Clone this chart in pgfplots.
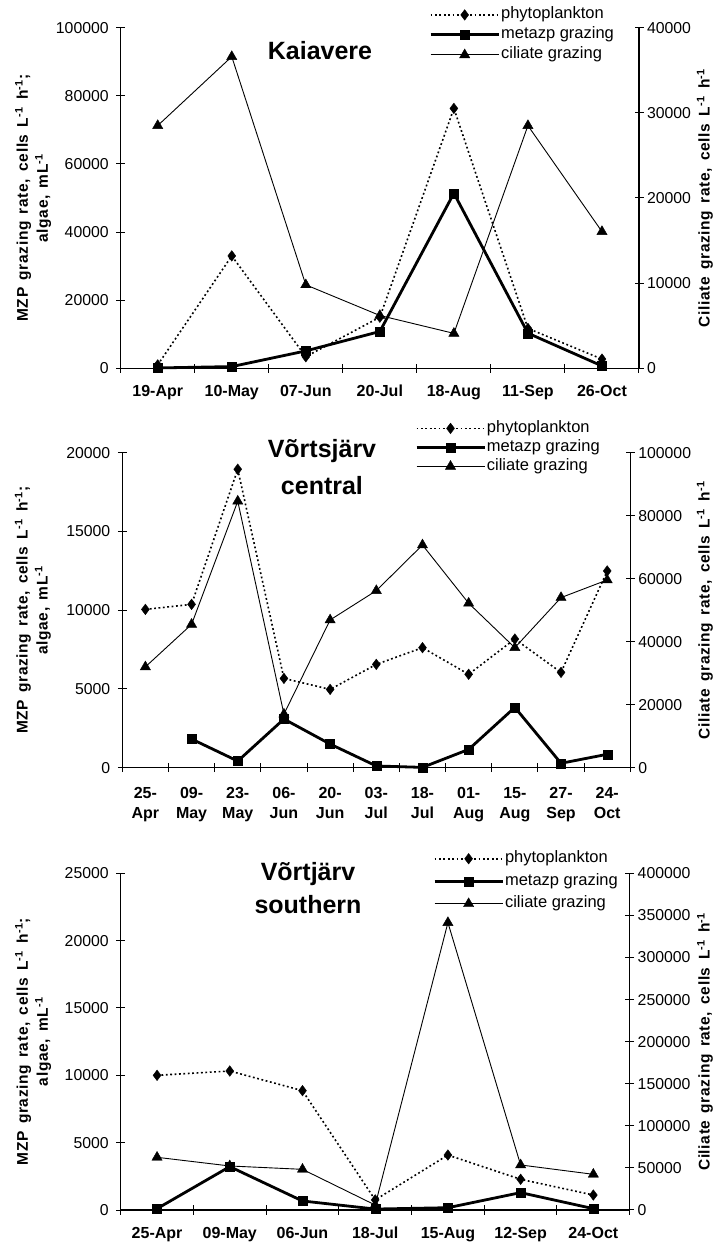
\documentclass[border=0pt]{standalone}
\usepackage{pgfplots}
\pgfplotsset{compat=1.18}
\usepackage{fontspec}
\setmainfont{Liberation Sans}
\newfontfamily\lblfont[LetterSpace=4,WordSpace=1.5]{Liberation Sans}

\newcommand{\mzplabel}{MZP grazing rate, cells L\textsuperscript{-1} h\textsuperscript{-1};\\algae, mL\textsuperscript{-1}}
\newcommand{\cililabel}{Ciliate grazing rate, cells L\textsuperscript{-1} h\textsuperscript{-1}}

\pgfplotsset{
  panel/.style={
    scale only axis,
    clip=false,
    axis line style={line width=1.1pt,-},
    every tick/.style={line width=1pt,black},
    major tick length=9pt,
    ymin=0,
    scaled y ticks=false,
    yticklabel style={font=\fontsize{15.8}{18}\selectfont,
      /pgf/number format/fixed,/pgf/number format/1000 sep={},
      /pgf/number format/assume math mode=true},
  },
  leftpanel/.style={
    panel,
    axis x line*=bottom,
    axis y line*=left,
    tick align=center,
    x tick label as interval,
    xticklabel style={font=\bfseries\fontsize{16}{20}\selectfont,align=center,yshift=-9pt},
    yticklabel style={xshift=-4pt},
    every axis y label/.style={at={(axis description cs:#1,0.5)},anchor=center,rotate=90,
      font=\lblfont\bfseries\fontsize{15.5}{20}\selectfont,align=center},
  },
  rightpanel/.style={
    panel,
    axis x line=none,
    axis y line*=right,
    tick align=center,
    every axis y label/.style={at={(axis description cs:#1,0.5)},anchor=center,rotate=90,
      font=\lblfont\bfseries\fontsize{15.5}{20}\selectfont},
    legend cell align=left,
    legend image code/.code={
      \draw[mark repeat=2,mark phase=2,##1] plot coordinates {(0pt,0pt) (34pt,0pt) (68pt,0pt)};
    },
  },
  phyto/.style={black,line width=1.6pt,dash pattern=on 1.8pt off 2.6pt,
    mark=diamond*,mark size=5.3pt,mark options={solid,line width=0.4pt}},
  metazp/.style={black,line width=2.8pt,
    mark=square*,mark size=4.5pt,mark options={solid,line width=0.4pt}},
  cili/.style={black,line width=0.9pt,
    mark=triangle*,mark size=5.9pt,mark options={solid,line width=0.4pt}},
  legstyle/.style={legend style={draw=none,fill=none,inner sep=0pt,row sep=0pt,
    at={(axis description cs:#1,1)},anchor=north west,
    font=\fontsize{16.5}{19}\selectfont,
    nodes={inner sep=1pt,text height=13pt,text depth=5pt},
    /tikz/every odd column/.append style={column sep=0pt}}},
}

\tikzset{paneltitle/.style={anchor=base,font=\bfseries\fontsize{25}{28}\selectfont}}

\begin{document}
\begin{tikzpicture}
\path[use as bounding box] (0pt,0pt) rectangle (724pt,1245pt);

% ---------------- Kaiavere ----------------
\begin{axis}[leftpanel=-0.169,
  at={(120.7pt,876.7pt)},anchor=south west,
  width=518.3pt,height=340.6pt,
  xmin=-0.5,xmax=6.5,ymax=100000,
  xtick={-0.5,0.5,...,6.5},
  xticklabels={19-Apr,10-May,07-Jun,20-Jul,18-Aug,11-Sep,26-Oct},
  ytick={0,20000,...,100000},
  ylabel={\mzplabel}]
\addplot[phyto] coordinates {(0,1000) (1,33000) (2,3400) (3,15000) (4,76300) (5,11700) (6,2700)};
\addplot[metazp] coordinates {(0,100) (1,500) (2,5100) (3,10800) (4,51400) (5,10300) (6,700)};
\node[paneltitle] at (axis description cs:0.3845,0.907) {Kaiavere};
\end{axis}
\begin{axis}[rightpanel=1.127,legstyle=0.595,
  legend style={yshift=23pt},
  at={(120.7pt,876.7pt)},anchor=south west,
  width=518.3pt,height=340.6pt,
  xmin=-0.5,xmax=6.5,ymax=40000,
  ytick={0,10000,...,40000},
  ylabel={\cililabel}]
\addlegendimage{phyto}\addlegendentry{phytoplankton}
\addlegendimage{metazp}\addlegendentry{metazp grazing}
\addplot[cili] coordinates {(0,28500) (1,36600) (2,9800) (3,6200) (4,4100) (5,28500) (6,16050)};
\addlegendentry{ciliate grazing}
\end{axis}

% ---------------- Vortsjarv central ----------------
\begin{axis}[leftpanel=-0.176,
  at={(122.3pt,477.3pt)},anchor=south west,
  width=508pt,height=315pt,
  xmin=-0.5,xmax=10.5,ymax=20000,
  xtick={-0.5,0.5,...,10.5},
  xticklabels={{25-\\Apr},{09-\\May},{23-\\May},{06-\\Jun},{20-\\Jun},{03-\\Jul},{18-\\Jul},{01-\\Aug},{15-\\Aug},{27-\\Sep},{24-\\Oct}},
  xticklabel style={yshift=-3pt},
  ytick={0,5000,...,20000},
  ylabel={\mzplabel}]
\addplot[phyto] coordinates {(0,10050) (1,10370) (2,18950) (3,5670) (4,4970) (5,6560) (6,7620) (7,5930) (8,8170) (9,6050) (10,12490)};
\addplot[metazp] coordinates {(1,1820) (2,420) (3,3090) (4,1500) (5,110) (6,20) (7,1160) (8,3830) (9,280) (10,850)};
\node[paneltitle] at (axis description cs:0.393,0.985) {Võrtsjärv};
\node[paneltitle] at (axis description cs:0.393,0.868) {central};
\end{axis}
\begin{axis}[rightpanel=1.147,legstyle=0.576,
  legend style={yshift=34pt,nodes={text height=12.5pt,text depth=4.5pt}},
  at={(122.3pt,477.3pt)},anchor=south west,
  width=508pt,height=315pt,
  xmin=-0.5,xmax=10.5,ymax=100000,
  ytick={0,20000,...,100000},
  ylabel={\cililabel}]
\addlegendimage{phyto}\addlegendentry{phytoplankton}
\addlegendimage{metazp}\addlegendentry{metazp grazing}
\addplot[cili] coordinates {(0,32000) (1,45500) (2,84600) (3,17000) (4,46900) (5,56200) (6,70700) (7,52200) (8,38100) (9,54000) (10,59600)};
\addlegendentry{ciliate grazing}
\end{axis}

% ---------------- Vortsjarv southern ----------------
\begin{axis}[leftpanel=-0.172,
  at={(120.7pt,35pt)},anchor=south west,
  width=509pt,height=336.7pt,
  xmin=-0.5,xmax=6.5,ymax=25000,
  xtick={-0.5,0.5,...,6.5},
  xticklabels={25-Apr,09-May,06-Jun,18-Jul,15-Aug,12-Sep,24-Oct},
  ytick={0,5000,...,25000},
  ylabel={\mzplabel}]
\addplot[phyto] coordinates {(0,10000) (1,10320) (2,8860) (3,750) (4,4080) (5,2280) (6,1110)};
\addplot[metazp] coordinates {(0,100) (1,3220) (2,670) (3,70) (4,170) (5,1290) (6,100)};
\node[paneltitle] at (axis description cs:0.368,0.98) {Võrtjärv};
\node[paneltitle] at (axis description cs:0.368,0.881) {southern};
\end{axis}
\begin{axis}[rightpanel=1.148,legstyle=0.6136,
  legend style={yshift=26pt,nodes={text height=14pt,text depth=6.5pt}},
  at={(120.7pt,35pt)},anchor=south west,
  width=509pt,height=336.7pt,
  xmin=-0.5,xmax=6.5,ymax=400000,
  ytick={0,50000,...,400000},
  ylabel={\cililabel}]
\addlegendimage{phyto}\addlegendentry{phytoplankton}
\addlegendimage{metazp}\addlegendentry{metazp grazing}
\addplot[cili] coordinates {(0,62600) (1,52300) (2,48300) (3,5900) (4,341400) (5,53500) (6,42400)};
\addlegendentry{ciliate grazing}
\end{axis}
\end{tikzpicture}
\end{document}
